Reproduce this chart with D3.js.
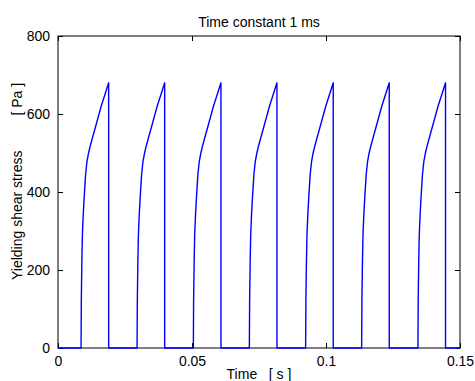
<!DOCTYPE html>
<html><head><meta charset="utf-8">
<script src="https://cdn.jsdelivr.net/npm/d3@7"></script>
<style>
html,body{margin:0;padding:0;background:#fff;}
text{font-family:Arial,"Liberation Sans",sans-serif;fill:#000;}
</style></head>
<body>
<svg id="chart" width="475" height="381"></svg>
<script>
const titleText = "Time constant 1 ms";
const xLabel = "Time   [ s ]";
const yLabel = "Yielding shear stress         [ Pa ]";
const xTicks = [0, 0.05, 0.1, 0.15];
const xTickLabels = ["0", "0.05", "0.1", "0.15"];
const yTicks = [0, 200, 400, 600, 800];
const yTickLabels = ["0", "200", "400", "600", "800"];

const time = [
  0,
  0.0086, 0.0087, 0.0089, 0.0091, 0.0094, 0.0098, 0.0103, 0.0108, 0.0114, 0.0121, 0.0131, 0.0146, 0.0161, 0.0176, 0.0189, 0.0189,
  0.0295, 0.0296, 0.0298, 0.0300, 0.0303, 0.0307, 0.0312, 0.0317, 0.0323, 0.0330, 0.0340, 0.0355, 0.0370, 0.0385, 0.0398, 0.0398,
  0.0505, 0.0506, 0.0508, 0.0510, 0.0513, 0.0517, 0.0522, 0.0527, 0.0533, 0.0540, 0.0550, 0.0565, 0.0580, 0.0595, 0.0608, 0.0608,
  0.0714, 0.0715, 0.0717, 0.0719, 0.0722, 0.0726, 0.0731, 0.0736, 0.0742, 0.0749, 0.0759, 0.0774, 0.0789, 0.0804, 0.0817, 0.0817,
  0.0924, 0.0925, 0.0927, 0.0929, 0.0932, 0.0936, 0.0941, 0.0946, 0.0952, 0.0959, 0.0969, 0.0984, 0.0999, 0.1014, 0.1027, 0.1027,
  0.1133, 0.1134, 0.1136, 0.1138, 0.1141, 0.1145, 0.1150, 0.1155, 0.1161, 0.1168, 0.1178, 0.1193, 0.1208, 0.1223, 0.1236, 0.1236,
  0.1343, 0.1344, 0.1346, 0.1348, 0.1351, 0.1355, 0.1360, 0.1365, 0.1371, 0.1378, 0.1388, 0.1403, 0.1418, 0.1433, 0.1446, 0.1446,
  0.15
];
const stress = [
  0,
  0, 120, 220, 290, 340, 390, 445, 478, 500, 520, 545, 582, 620, 652, 680, 0,
  0, 120, 220, 290, 340, 390, 445, 478, 500, 520, 545, 582, 620, 652, 680, 0,
  0, 120, 220, 290, 340, 390, 445, 478, 500, 520, 545, 582, 620, 652, 680, 0,
  0, 120, 220, 290, 340, 390, 445, 478, 500, 520, 545, 582, 620, 652, 680, 0,
  0, 120, 220, 290, 340, 390, 445, 478, 500, 520, 545, 582, 620, 652, 680, 0,
  0, 120, 220, 290, 340, 390, 445, 478, 500, 520, 545, 582, 620, 652, 680, 0,
  0, 120, 220, 290, 340, 390, 445, 478, 500, 520, 545, 582, 620, 652, 680, 0,
  0
];

const W = 475, H = 381;
const m = {left: 58, right: 15, top: 36, bottom: 33};
const pw = W - m.left - m.right, ph = H - m.top - m.bottom;
const FONT = 'Arial,"Liberation Sans",sans-serif';
const svg = d3.select("#chart");
const g = svg.append("g").attr("transform", `translate(${m.left},${m.top})`);

const x = d3.scaleLinear().domain([0, 0.15]).range([0, pw]);
const y = d3.scaleLinear().domain([0, 800]).range([ph, 0]);

g.append("rect").attr("x", 0).attr("y", 0).attr("width", pw).attr("height", ph)
  .attr("fill", "none").attr("stroke", "#000").attr("stroke-width", 1);

const tl = 5;
const fmtX = (d, i) => xTickLabels[i];
const fmtY = (d, i) => yTickLabels[i];

const xb = g.append("g").attr("transform", `translate(0,${ph})`)
  .call(d3.axisBottom(x).tickValues(xTicks).tickFormat(fmtX).tickSizeInner(-tl).tickSizeOuter(0).tickPadding(tl + 3));
const xt = g.append("g")
  .call(d3.axisTop(x).tickValues(xTicks).tickFormat("").tickSizeInner(-tl).tickSizeOuter(0));
const yl = g.append("g")
  .call(d3.axisLeft(y).tickValues(yTicks).tickFormat(fmtY).tickSizeInner(-tl).tickSizeOuter(0).tickPadding(tl + 3));
const yr = g.append("g").attr("transform", `translate(${pw},0)`)
  .call(d3.axisRight(y).tickValues(yTicks).tickFormat("").tickSizeInner(-tl).tickSizeOuter(0));
[xb, xt, yl, yr].forEach(a => {
  a.select(".domain").remove();
  a.selectAll("line").attr("stroke", "#000");
  a.selectAll("text").style("font-family", FONT).style("font-size", "14px").attr("fill", "#000");
});

const pts = time.map((t, i) => [t, stress[i]]);
const line = d3.line().x(d => x(d[0])).y(d => y(d[1]));
g.append("path").datum(pts).attr("d", line)
  .attr("fill", "none").attr("stroke", "#0000ff").attr("stroke-width", 1.4)
  .attr("stroke-linejoin", "round");

svg.append("text").attr("x", m.left + pw / 2).attr("y", 27).attr("text-anchor", "middle")
  .style("font-size", "14px").text(titleText);
svg.append("text").attr("x", m.left + pw / 2).attr("y", 379).attr("text-anchor", "middle")
  .style("font-size", "14px").style("white-space", "pre").attr("xml:space", "preserve").text(xLabel);
svg.append("text").attr("transform", `translate(22,280) rotate(-90)`).attr("text-anchor", "start")
  .style("font-size", "14px").style("white-space", "pre").attr("xml:space", "preserve").text(yLabel);
</script>
</body></html>
